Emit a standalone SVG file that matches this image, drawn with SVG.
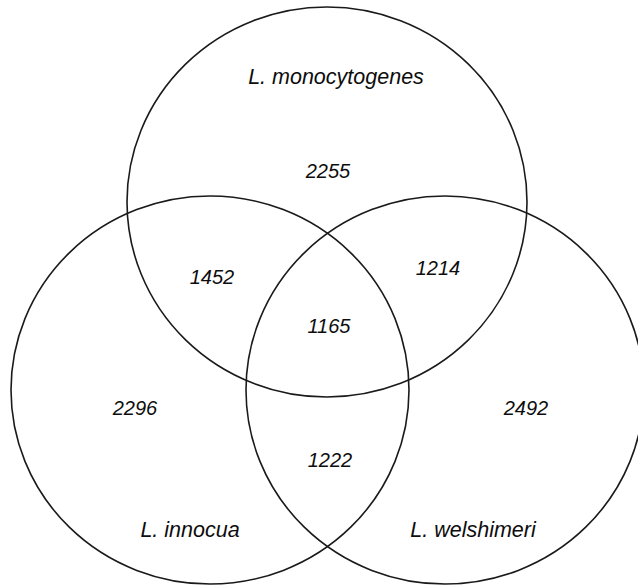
<svg xmlns="http://www.w3.org/2000/svg" width="638" height="586" viewBox="0 0 638 586">
<style>
.c{fill:none;stroke:#1a1a1a;stroke-width:1.6}
text{font-family:"Liberation Sans",Arial,sans-serif;font-style:italic;fill:#0d0d0d;text-anchor:middle}
.n{font-size:20px}
.l{font-size:21.5px}
</style>
<rect width="638" height="586" fill="#fff"/>
<g id="node-monocytogenes">
<ellipse class="c" cx="327" cy="202" rx="200" ry="195"/>
<text class="l" x="336" y="84">L. monocytogenes</text>
<text class="n" x="328" y="178">2255</text>
</g>
<g id="node-innocua">
<ellipse class="c" cx="210" cy="390" rx="199" ry="194"/>
<text class="l" x="190" y="537">L. innocua</text>
<text class="n" x="135" y="415">2296</text>
</g>
<g id="node-welshimeri">
<ellipse class="c" cx="445" cy="390" rx="199" ry="194"/>
<text class="l" x="473" y="537">L. welshimeri</text>
<text class="n" x="526" y="415">2492</text>
</g>
<g id="overlaps">
<text class="n" x="212" y="284">1452</text>
<text class="n" x="438" y="275">1214</text>
<text class="n" x="329" y="333">1165</text>
<text class="n" x="330" y="467">1222</text>
</g>
<g id="connectors"></g>
</svg>
